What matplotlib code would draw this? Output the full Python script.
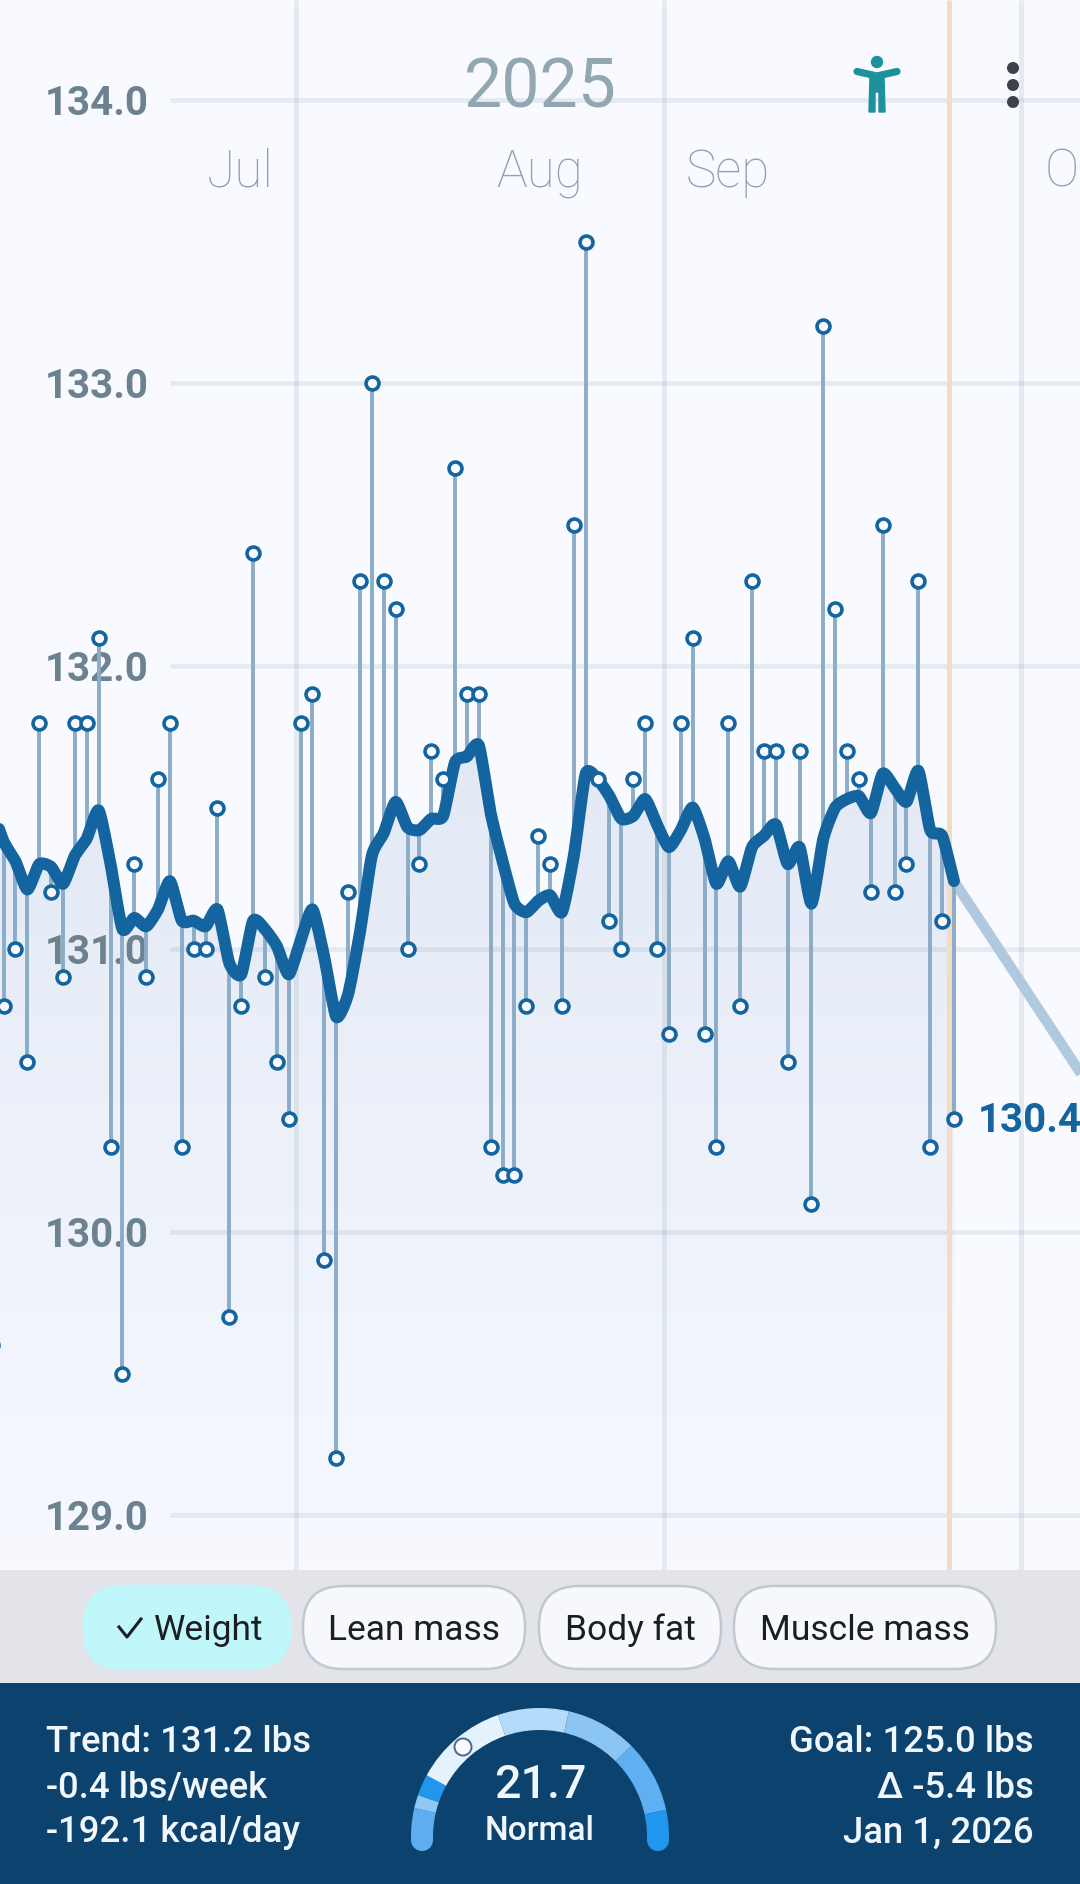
import numpy as np
import matplotlib
matplotlib.use("Agg")
import matplotlib.pyplot as plt
from matplotlib.patches import Wedge, Circle, FancyBboxPatch, Rectangle, Polygon

plt.rcParams['font.family'] = ['Roboto', 'DejaVu Sans']

# ---- data (oldest to newest, one reading per day) ----
weight = [129.6, 130.8, 131.0, 130.6, 131.8, 131.2, 130.9, 131.8, 131.8, 132.1, 130.3, 129.5,
          131.3, 130.9, 131.6, 131.8, 130.3, 131.0, 131.0, 131.5, 129.7, 130.8,
          132.4, 130.9, 130.6, 130.4, 131.8, 131.9, 129.9, 129.2, 131.2, 132.3,
          133.0, 132.3, 132.2, 131.0, 131.3, 131.7, 131.6, 132.7, 131.9, 131.9,
          130.3, 130.2, 130.2, 130.8, 131.4, 131.3, 130.8, 132.5, 133.5, 131.6,
          131.1, 131.0, 131.6, 131.8, 131.0, 130.7, 131.8, 132.1, 130.7, 130.3,
          131.8, 130.8, 132.3, 131.7, 131.7, 130.6, 131.7, 130.1, 133.2, 132.2,
          131.7, 131.6, 131.2, 132.5, 131.2, 131.3, 132.3, 130.3, 131.1, 130.4]
trend = [131.50, 131.38, 131.31, 131.21, 131.30, 131.29, 131.23, 131.33, 131.39, 131.49, 131.30, 131.07,
         131.11, 131.08, 131.14, 131.24, 131.10, 131.10, 131.08, 131.14, 130.95, 130.91,
         131.10, 131.07, 131.01, 130.91, 131.03, 131.14, 130.97, 130.76, 130.84, 131.06,
         131.33, 131.41, 131.52, 131.43, 131.42, 131.46, 131.47, 131.66, 131.68, 131.72,
         131.48, 131.31, 131.16, 131.13, 131.17, 131.19, 131.13, 131.33, 131.62, 131.60,
         131.54, 131.46, 131.47, 131.53, 131.44, 131.36, 131.42, 131.50, 131.39, 131.23,
         131.31, 131.22, 131.36, 131.40, 131.44, 131.30, 131.36, 131.16, 131.39, 131.50,
         131.53, 131.54, 131.48, 131.62, 131.57, 131.52, 131.63, 131.42, 131.40, 131.24]
days_before_last = list(range(-81, 1))
goal_days = [0, 98]
goal_values = [131.24, 125.0]
y_ticks = [129, 130, 131, 132, 133, 134]
month_lines = [-55.4, -24.4, 5.6]
today_line = -0.4
month_names = ["Jul", "Aug", "Sep", "O"]
chips = ["Weight", "Lean mass", "Body fat", "Muscle mass"]
left_lines = ["Trend: 131.2 lbs", "-0.4 lbs/week", "-192.1 kcal/day"]
right_lines = ["Goal: 125.0 lbs", "Δ -5.4 lbs", "Jan 1, 2026"]
gauge_edges = [182, 167, 161, 151.4, 109, 77, 45, 12.2, -2]
gauge_colors = ['#5caef0', '#90c8f5', '#2196ee', '#e3f2fd', '#b5dbfa', '#8ac5f4', '#5fb0f3', '#2196ee']

W, H = 1080, 1884
CHART_H = 1570
PX_DAY = 11.88
LAST_PX = 954
BG = '#f8faff'; BLUE = '#14649f'


def smooth(xs, ys, n=10, k=0.3):
    """Hermite curve through every given vertex; k sets how round the corners are."""
    p = np.column_stack([np.asarray(xs, float), np.asarray(ys, float)])
    m = np.zeros_like(p)
    m[1:-1] = k * (p[2:] - p[:-2])
    m[0] = p[1] - p[0]; m[-1] = p[-1] - p[-2]
    m[0] *= 2 * k; m[-1] *= 2 * k
    out = []
    for i in range(len(p) - 1):
        u = np.linspace(0, 1, n, endpoint=False)[:, None]
        out.append((2 * u ** 3 - 3 * u ** 2 + 1) * p[i] + (u ** 3 - 2 * u ** 2 + u) * m[i]
                   + (-2 * u ** 3 + 3 * u ** 2) * p[i + 1] + (u ** 3 - u ** 2) * m[i + 1])
    out.append(p[-1][None])
    out = np.vstack(out)
    return out[:, 0], out[:, 1]


fig = plt.figure(figsize=(W / 100, H / 100), dpi=100, facecolor=BG)
ax = fig.add_axes([0, 1 - CHART_H / H, 1, CHART_H / H], facecolor=BG)
ax.set_xlim(-LAST_PX / PX_DAY, (W - LAST_PX) / PX_DAY)
ax.set_ylim(134 - (CHART_H - 100) / 283, 134 + 100 / 283)
ax.axis('off')

x = np.array(days_before_last, dtype=float)
w = np.array(weight); t = np.array(trend)
x0, x1 = ax.get_xlim(); y0, y1 = ax.get_ylim()
sx, st = smooth(x, t)

# gradient area under the trend
poly = ax.fill_between(sx, st, y0, color='none', lw=0)
grad = np.linspace(0, 1, 256).reshape(-1, 1)
c_top = np.array([0xe2, 0xe9, 0xf5]) / 255; c_bot = np.array([0xf7, 0xf9, 0xff]) / 255
img = c_top[None, None, :] * (1 - grad[..., None]) + c_bot[None, None, :] * grad[..., None]
im = ax.imshow(img, extent=[x0, x1, y0, 131.75], aspect='auto', origin='upper', zorder=1)
im.set_clip_path(poly.get_paths()[0], transform=ax.transData)
ax.set_xlim(x0, x1); ax.set_ylim(y0, y1)

# grid
hx = x0 + 170 / PX_DAY
ax.hlines(y_ticks, hx, x1, color='#607d8b', alpha=0.12, lw=3.4, zorder=2)
ax.vlines(month_lines, y0, y1, color='#607d8b', alpha=0.12, lw=3.6, zorder=2)
ax.vlines([today_line], y0, y1, color='#f3dcc3', lw=3.6, zorder=2.2)

for v in y_ticks:
    ax.text(148.5 / W, v, f"{v:.1f}", transform=ax.get_yaxis_transform(), ha='right', va='center_baseline',
            fontsize=29, fontweight='bold', color='#6c8290', zorder=2.5)

# stems, trend, readings
ax.plot(goal_days, goal_values, color='#b1c9df', lw=7.5, zorder=3, solid_capstyle='butt')
ax.vlines(x, t, w, color='#8bacc9', lw=2.8, zorder=3.2)
ax.plot(sx, st, color=BLUE, lw=8.6, zorder=4, solid_joinstyle='round', solid_capstyle='round')
ax.plot(x, w, ls='none', marker='o', ms=9.3, mfc=BG, mec=BLUE, mew=2.6, zorder=5)
ax.text(978 / W, w[-1] + 0.008, f"{w[-1]:.1f}", transform=ax.get_yaxis_transform(), ha='left', va='center_baseline',
        fontsize=29, fontweight='bold', color=BLUE, zorder=6)

# interface overlay in pixel coordinates
ui = fig.add_axes([0, 0, 1, 1], facecolor='none')
ui.set_xlim(0, W); ui.set_ylim(H, 0); ui.axis('off')

ui.text(540, 82, "2025", ha='center', va='center_baseline', fontsize=49, color='#93a7b3')
for name, px, ha in zip(month_names, [240, 540, 728, 1045], ['center', 'center', 'center', 'left']):
    ui.text(px, 167, name, ha=ha, va='center_baseline', fontsize=37, fontweight='light', color='#8ea2ad')

# accessibility icon
TEAL = '#1c929c'
ui.add_patch(Circle((877, 62), 6.2, fc=TEAL, ec='none'))
ui.plot([857, 877, 897], [71.5, 76, 71.5], color=TEAL, lw=5.2, solid_capstyle='round', solid_joinstyle='round')
ui.add_patch(Polygon([[870, 76], [884, 76], [885, 112], [879, 112], [879, 92], [875, 92], [875, 112], [869, 112]], fc=TEAL, ec=TEAL, lw=1))
for cy in [68, 85, 102]:
    ui.add_patch(Circle((1013, cy), 6, fc='#3d4149', ec='none'))

# chips
ui.add_patch(Rectangle((0, CHART_H), W, 1683 - CHART_H, fc='#e2e4e9', ec='none'))
chip_x = [(84, 290), (303, 525), (539, 721), (734, 996)]
for i, (label, (a, b)) in enumerate(zip(chips, chip_x)):
    sel = i == 0
    ui.add_patch(FancyBboxPatch((a, 1586), b - a, 83, boxstyle='round,pad=0,rounding_size=40',
                                fc='#bff7fb' if sel else '#f6f8fd', ec='#bff7fb' if sel else '#c4c7cf', lw=1.8))
    ui.text(154 if sel else (a + b) / 2, 1627, label, ha='left' if sel else 'center', va='center_baseline',
            fontsize=25.5, color='#1b1e22')
ui.plot([119, 127, 141], [1627, 1637, 1619], color='#1b1e22', lw=2.2)

# summary band
ui.add_patch(Rectangle((0, 1683), W, H - 1683, fc='#0c426e', ec='none'))
for yy, a, b in zip([1739, 1784, 1829], left_lines, right_lines):
    ui.text(46, yy, a, ha='left', va='center_baseline', fontsize=26.3, fontweight='medium', color='#f0f6fc')
    ui.text(1034, yy, b, ha='right', va='center_baseline', fontsize=26.3, fontweight='medium', color='#f0f6fc')

# gauge
cx, cy, ro, ri = 540, 1837, 129, 107
for a, b, c in zip(gauge_edges[:-1], gauge_edges[1:], gauge_colors):
    ui.add_patch(Wedge((cx, cy), ro, -a, -b, width=ro - ri, fc=c, ec='none'))
ui.add_patch(Circle((cx - (ro + ri) / 2, 1840), 11, fc=gauge_colors[0], ec='none'))
ui.add_patch(Circle((cx + (ro + ri) / 2, 1840), 11, fc=gauge_colors[-1], ec='none'))
ui.add_patch(Circle((463, 1747), 8.5, fc=BG, ec='#4a6a85', lw=1.4))
ui.text(540, 1781, "21.7", ha='center', va='center_baseline', fontsize=33.5, fontweight='medium', color='#f0f6fc')
ui.text(540, 1828, "Normal", ha='center', va='center_baseline', fontsize=24, fontweight='medium', color='#f0f6fc')

fig.savefig('out.png', dpi=100, facecolor=BG)
